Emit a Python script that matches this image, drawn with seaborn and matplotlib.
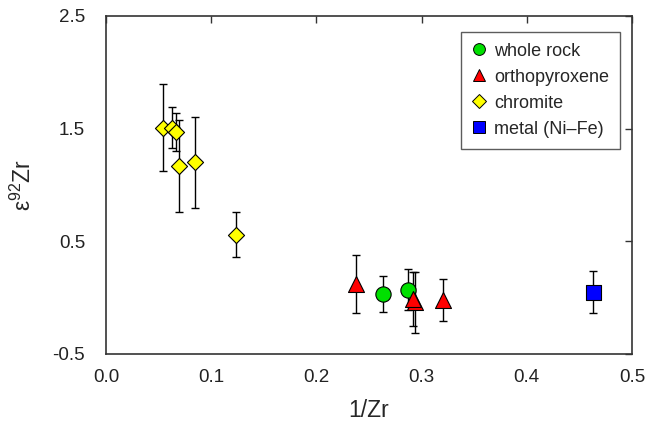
import pandas as pd
import matplotlib
matplotlib.use("Agg")
import matplotlib.pyplot as plt
import seaborn as sns
from matplotlib.lines import Line2D

# datos
materials = ["chromite"] * 6 + ["whole rock"] * 2 + ["orthopyroxene"] * 4 + ["metal (Ni–Fe)"]
inv_zr = [0.054, 0.063, 0.067, 0.069, 0.085, 0.124,
          0.263, 0.287,
          0.238, 0.294, 0.292, 0.320,
          0.463]
eps_zr = [1.51, 1.51, 1.47, 1.17, 1.20, 0.56,
          0.03, 0.07,
          0.12, -0.04, -0.01, -0.02,
          0.05]
eps_err = [0.39, 0.18, 0.17, 0.41, 0.40, 0.20,
           0.16, 0.18,
           0.26, 0.27, 0.24, 0.19,
           0.19]

legend_order = ["whole rock", "orthopyroxene", "chromite", "metal (Ni–Fe)"]
palette = {"whole rock": "#00E000", "orthopyroxene": "#FF0000",
           "chromite": "#FFFF00", "metal (Ni–Fe)": "#0000FF"}
markers = {"whole rock": "o", "orthopyroxene": "^",
           "chromite": "D", "metal (Ni–Fe)": "s"}
sizes = {"whole rock": 11, "orthopyroxene": 11.5,
         "chromite": 8.2, "metal (Ni–Fe)": 10.8}

df = pd.DataFrame({"material": materials, "x": inv_zr, "y": eps_zr, "err": eps_err})

sns.set_style("white")
plt.rcParams["font.family"] = ["Liberation Sans", "DejaVu Sans"]
plt.rcParams["mathtext.default"] = "regular"

fig = plt.figure(figsize=(6.45, 4.32), dpi=100)
ax = fig.add_axes([106 / 645, 1 - 354 / 432, 526 / 645, 338 / 432])

# barras de error por debajo de los marcadores
ax.errorbar(df["x"], df["y"], yerr=df["err"], fmt="none", ecolor="black",
            elinewidth=1.0, capsize=3, capthick=1.0, zorder=1)

for mat in ["chromite", "whole rock", "orthopyroxene", "metal (Ni–Fe)"]:
    sub = df[df["material"] == mat]
    sns.scatterplot(data=sub, x="x", y="y", marker=markers[mat], color=palette[mat],
                    s=sizes[mat] ** 2, edgecolor="black", linewidth=0.8,
                    ax=ax, legend=False, zorder=3)

ax.set_xlim(0, 0.5)
ax.set_ylim(-0.5, 2.5)
ax.set_xticks([0.0, 0.1, 0.2, 0.3, 0.4, 0.5])
ax.set_xticklabels(["0.0", "0.1", "0.2", "0.3", "0.4", "0.5"])
ax.set_yticks([-0.5, 0.5, 1.5, 2.5])
ax.set_yticklabels(["-0.5", "0.5", "1.5", "2.5"])
ax.tick_params(direction="in", length=5, width=1, color="#333333",
               top=True, right=True, labelsize=13.5, colors="#222222")
ax.tick_params(axis="x", pad=11)
ax.tick_params(axis="y", pad=15)
for sp in ax.spines.values():
    sp.set_color("#333333")
    sp.set_linewidth(1.2)

ax.set_xlabel("1/Zr", fontsize=16.5, labelpad=9)
ax.set_ylabel("ε$^{92}$Zr", fontsize=16.5, labelpad=12)

handles = [Line2D([], [], linestyle="", marker=markers[m], markersize=8.5 if m != "chromite" else 6.8,
                  markerfacecolor=palette[m], markeredgecolor="black", markeredgewidth=0.7)
           for m in legend_order]
leg = ax.legend(handles, legend_order, loc="upper right", bbox_to_anchor=(0.977, 0.953),
                fontsize=13, frameon=True, fancybox=False, handlelength=0.8,
                handletextpad=0.45, labelspacing=0.5, borderpad=0.6, borderaxespad=0)
leg.get_frame().set_edgecolor("#333333")
leg.get_frame().set_linewidth(1.0)

fig.savefig("out.png", dpi=100)
plt.close(fig)
